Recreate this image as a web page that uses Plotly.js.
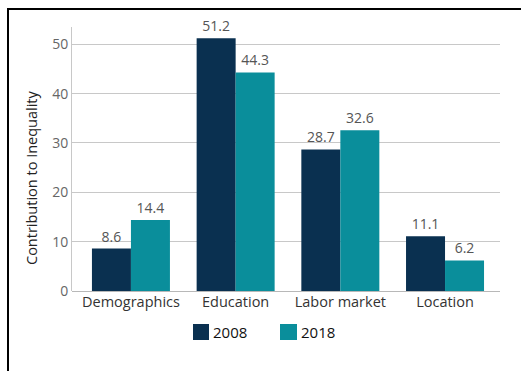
<!DOCTYPE html>
<html>
<head>
<meta charset="utf-8">
<script src="https://cdn.plot.ly/plotly-3.0.1.min.js"></script>
<style>
html,body{margin:0;padding:0;background:#fff;}
#chart{width:521px;height:371px;}
</style>
</head>
<body>
<div id="chart"></div>
<script>
var categories = ["Demographics", "Education", "Labor market", "Location"];
var values2008 = [8.6, 51.2, 28.7, 11.1];
var values2018 = [14.4, 44.3, 32.6, 6.2];
var seriesNames = ["2008", "2018"];
var seriesColors = ["#0a3050", "#0a8e9b"];
var yTickVals = [0, 10, 20, 30, 40, 50];

var font = "Open Sans, Noto Sans, sans-serif";

// pixel -> paper helpers (plot area: x 72..500, y 27..291)
function px(x){ return (x - 72) / 428; }
function py(y){ return (291 - y) / 264; }

var traces = [
  {
    type: "bar", name: seriesNames[0], x: categories, y: values2008,
    marker: {color: seriesColors[0]},
    text: values2008.map(function(v){return v.toFixed(1);}),
    textposition: "outside", cliponaxis: false,
    textfont: {family: font, size: 14, color: "#555"}
  },
  {
    type: "bar", name: seriesNames[1], x: categories, y: values2018,
    marker: {color: seriesColors[1]},
    text: values2018.map(function(v){return v.toFixed(1);}),
    textposition: "outside", cliponaxis: false,
    textfont: {family: font, size: 14, color: "#555"}
  }
];

var legendSquares = [[193, 209], [280, 297]];
var shapes = [{
  type: "path", xref: "paper", yref: "paper",
  path: "M " + px(8) + "," + py(400) + " L " + px(8) + "," + py(9) + " L " + px(530) + "," + py(9),
  line: {color: "#000", width: 2}
}];
var annotations = [{
  text: "Contribution to Inequality",
  xref: "paper", yref: "paper",
  x: px(31), y: py(178),
  xanchor: "center", yanchor: "middle", textangle: -90,
  showarrow: false,
  font: {family: font, size: 14.5, color: "#222"}
}];
seriesNames.forEach(function(name, i){
  var sq = legendSquares[i];
  shapes.push({
    type: "rect", xref: "paper", yref: "paper",
    x0: px(sq[0]), x1: px(sq[1]), y0: py(340), y1: py(324),
    fillcolor: seriesColors[i], line: {width: 0}
  });
  annotations.push({
    text: name, xref: "paper", yref: "paper",
    x: px(sq[1] + 2), y: py(332), xanchor: "left", yanchor: "middle",
    showarrow: false,
    font: {family: font, size: 15, color: "#111"}
  });
});

var layout = {
  width: 521, height: 371,
  margin: {l: 72, r: 21, t: 27, b: 80},
  paper_bgcolor: "#fff", plot_bgcolor: "#fff",
  font: {family: font},
  barmode: "group", bargap: 0.255, bargroupgap: 0,
  showlegend: false,
  xaxis: {
    range: [-0.563, 3.525], showgrid: false, zeroline: false,
    showline: false, ticks: "",
    tickfont: {family: font, size: 14.5, color: "#333"}
  },
  yaxis: {
    range: [0, 53.5], tickvals: yTickVals,
    showgrid: true, gridcolor: "#c8c8c8", gridwidth: 1,
    zeroline: true, zerolinecolor: "#b8b8b8", zerolinewidth: 1,
    showline: true, linecolor: "#c8c8c8", linewidth: 1,
    ticks: "", ticklen: 0,
    tickfont: {family: font, size: 14, color: "#666"}
  },
  annotations: annotations,
  shapes: shapes
};

Plotly.newPlot("chart", traces, layout, {displayModeBar: false, staticPlot: true});
</script>
</body>
</html>
